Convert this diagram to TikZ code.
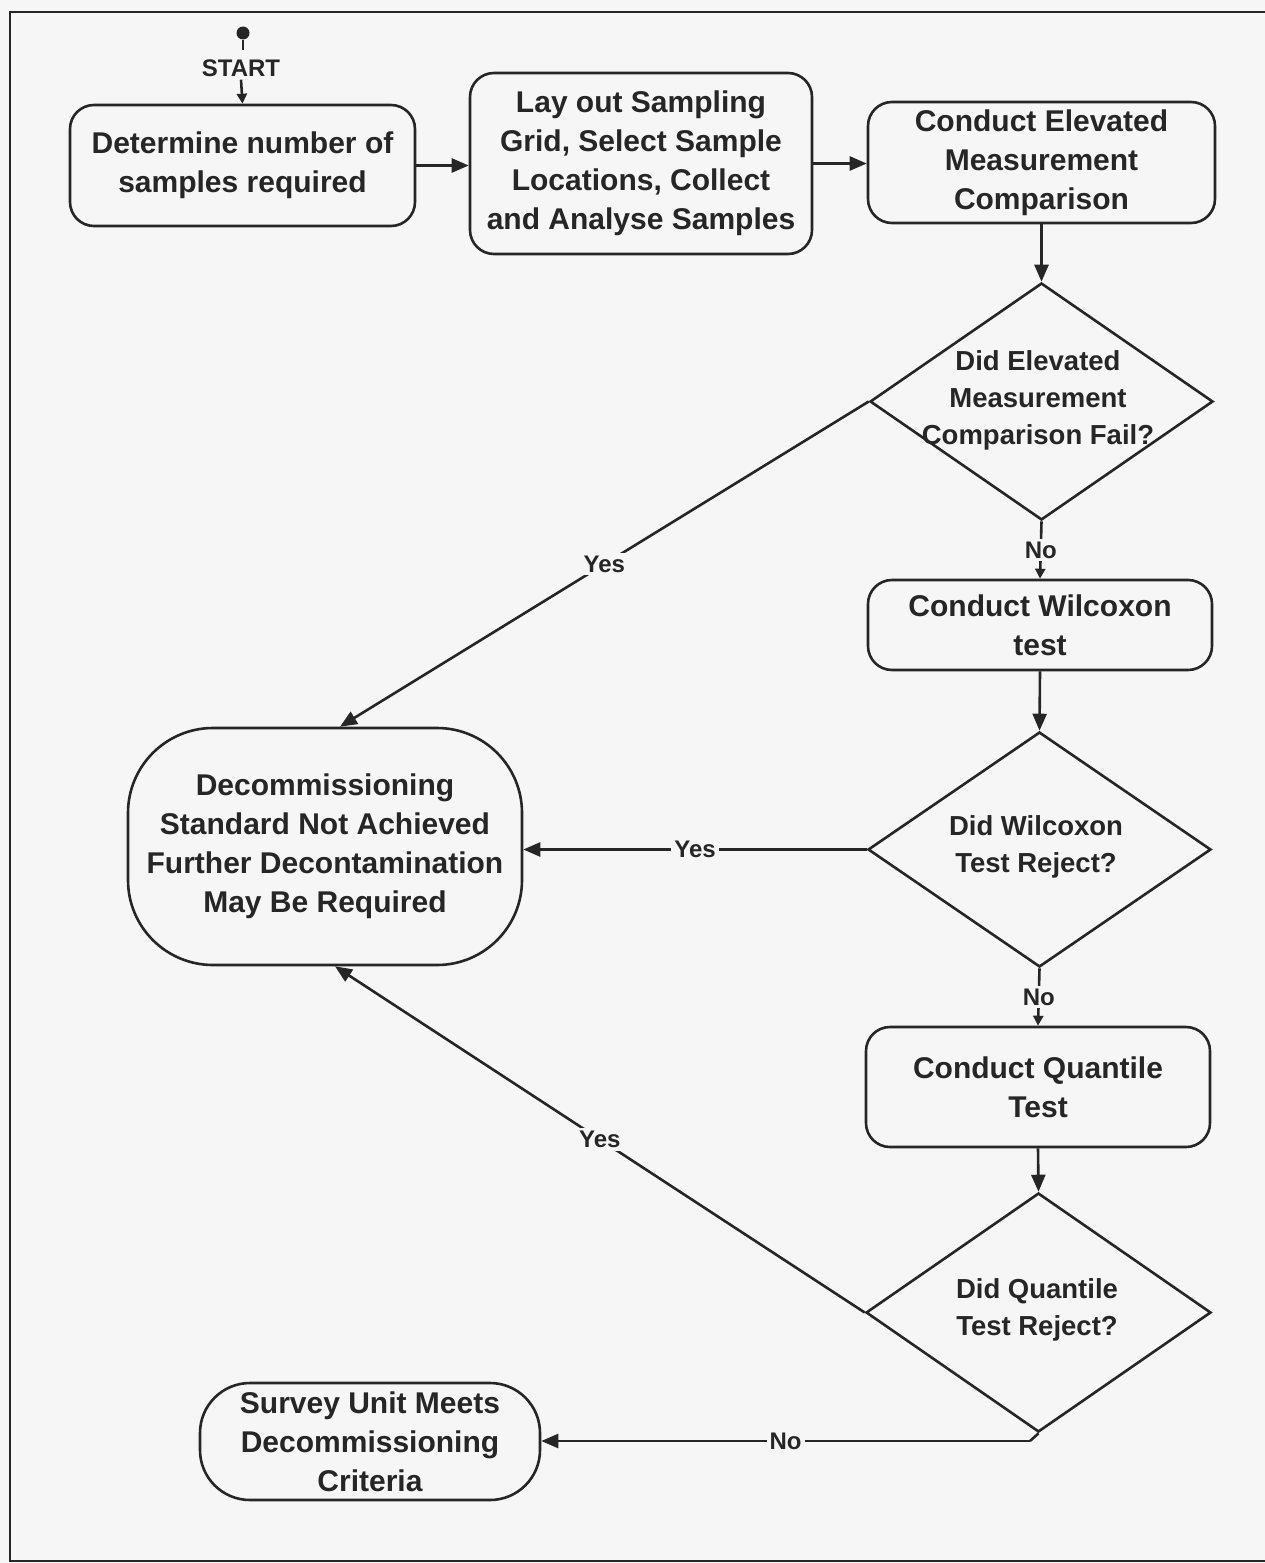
\documentclass[tikz,border=0pt]{standalone}
\usepackage{fontspec}
\setmainfont{Liberation Sans}
\usetikzlibrary{arrows.meta,shapes.geometric}
\definecolor{bg}{RGB}{246,246,246}
\definecolor{ink}{RGB}{38,38,38}
\tikzset{
  proc/.style={draw=ink, line width=2.6pt, rounded corners=24pt, inner sep=0pt, align=center,
               text=ink, font=\fontsize{30}{39}\selectfont\bfseries},
  dtxt/.style={text=ink, font=\fontsize{27.5}{37}\selectfont\bfseries, align=center, inner sep=0pt},
  dia/.style={draw=ink, line width=2.6pt, diamond, inner sep=0pt},
  line/.style={draw=ink, line width=2.6pt},
  conn/.style={line, -{Triangle[length=17pt,width=14pt]}},
  smallconn/.style={line, -{Triangle[length=10pt,width=10pt]}},
  lab/.style={fill=bg, text=ink, font=\fontsize{24}{28}\selectfont\bfseries, inner sep=3pt}
}
\begin{document}
\begin{tikzpicture}[x=1pt,y=-1pt]
\useasboundingbox (0,0) rectangle (1265,1563);
\fill[bg] (0,0) rectangle (1265,1563);
\draw[line, line width=2.2pt] (1265,12) -- (10,12) -- (10,1561) -- (1265,1561);

% start
\node[circle, fill=ink, inner sep=0pt, minimum size=13pt] (sdot) at (243,33) {};
\coordinate (spin) at (243,50);
\draw[line] (sdot) -- (spin);
\node[lab, fill=none] (stxt) at (241,68) {START};

% boxes
\node[proc, minimum width=345pt, minimum height=121pt] (b1) at (242.5,165.5) {Determine number of\\samples required};
\node[proc, minimum width=342pt, minimum height=181pt] (b2) at (641,163.5) {Lay out Sampling\\Grid, Select Sample\\Locations, Collect\\and Analyse Samples};
\node[proc, minimum width=347pt, minimum height=121pt] (b3) at (1041.5,162.5) {Conduct Elevated\\Measurement\\Comparison};
\node[proc, minimum width=344pt, minimum height=90pt] (b4) at (1040,625) {Conduct Wilcoxon\\test};
\node[proc, minimum width=344pt, minimum height=120pt] (b5) at (1038,1087) {Conduct Quantile\\Test};
\node[proc, rounded corners=85pt, minimum width=394pt, minimum height=237pt] (b6) at (325,846.5) {Decommissioning\\Standard Not Achieved\\Further Decontamination\\May Be Required};
\node[proc, rounded corners=50pt, minimum width=340pt, minimum height=117pt] (b7) at (370,1441.5) {Survey Unit Meets\\Decommissioning\\Criteria};

% diamonds
\node[dia, minimum width=343pt, minimum height=237pt] (d1) at (1041.5,401.5) {};
\node[dtxt] (d1t) at (1038,400) {Did Elevated\\Measurement\\Comparison Fail?};
\node[dia, minimum width=343pt, minimum height=235pt] (d2) at (1039.5,849.5) {};
\node[dtxt] (d2t) at (1036,847) {Did Wilcoxon\\Test Reject?};
\node[dia, minimum width=345pt, minimum height=239pt] (d3) at (1038.5,1312.5) {};
\node[dtxt] (d3t) at (1037,1310) {Did Quantile\\Test Reject?};

% connectors
\draw[smallconn] (stxt.south) -- (b1.north);
\draw[conn] (b1.east) -- (b1.east -| b2.west);
\draw[conn] (b2.east) -- (b2.east -| b3.west);
\draw[conn] (b3.south) -- (d1.north);
\draw[smallconn] (d1.south) -- node[lab]{No} (b4.north);
\draw[conn] (b4.south) -- (d2.north);
\draw[smallconn] (d2.south) -- node[lab]{No} (b5.north);
\draw[conn] (b5.south) -- (d3.north);

\draw[conn] (d1.west) -- node[lab]{Yes} ([xshift=15pt]b6.north);
\draw[conn] (d2.west) -- node[lab]{Yes} (d2.west -| b6.east);
\draw[conn] (d3.west) -- node[lab]{Yes} ([xshift=10pt]b6.south);

\coordinate (nb) at (1030,1441);
\draw[line] (d3.south) -- (nb);
\draw[conn] (nb) -- node[lab]{No} (nb -| b7.east);
\end{tikzpicture}
\end{document}
